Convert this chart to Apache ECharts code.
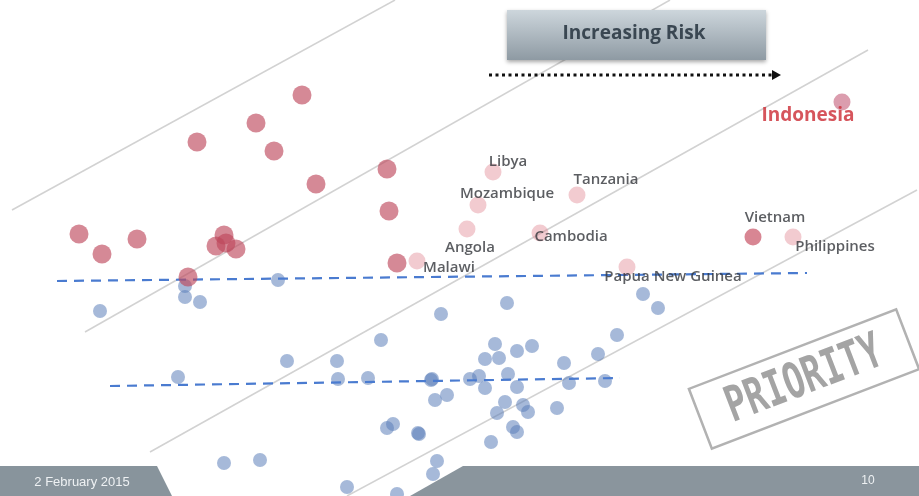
<!DOCTYPE html>
<html>
<head>
<meta charset="utf-8">
<script src="https://cdn.jsdelivr.net/npm/echarts@6/dist/echarts.min.js"></script>
<style>html,body{margin:0;padding:0;background:#fff}#c{width:919px;height:496px}</style>
</head>
<body>
<div id="c"></div>
<script>
// ---- data (slide coordinates) ----
var redPoints = [[302,95],[256,123],[197,142],[274,151],[316,184],[387,169],[389,211],
  [79,234],[102,254],[137,239],[224,235],[216,246],[226,243],[236,249],[188,277],[397,263]];
var bluePoints = [[100,311],[185,286],[185,297],[200,302],[278,280],[441,314],[381,340],
  [287,361],[337,361],[178,377],[338,379],[368,378],[432,379],[435,400],[447,395],
  [387,428],[393,424],[419,434],[224,463],[260,460],[347,487],[437,461],[433,474],[397,494],
  [507,303],[643,294],[658,308],[617,335],[598,354],[564,363],[532,346],[517,351],
  [495,344],[499,358],[485,359],[431,380],[470,379],[479,376],[485,388],[508,374],
  [517,387],[569,383],[605,381],[505,402],[497,413],[523,405],[528,412],[557,408],
  [418,433],[513,427],[517,432],[491,442]];
var countries = ['Libya','Mozambique','Tanzania','Angola','Cambodia','Malawi','Papua New Guinea','Vietnam','Philippines','Indonesia'];
var countryX = [493,478,577,467,540,417,627,753,793,842];
var countryY = [172,205,195,229,233,261,267,237,237,102];
var diagonals = [[[12,210],[395,0]],[[85,332],[670,0]],[[150,452],[868,50]],[[347,496],[917,190]]];
var thresholds = [[[57,281],[807,273]],[[110,386],[620,378]]];
var footerDate = '2 February 2015';
var pageNo = '10';
var headerText = 'Increasing Risk';
var stampText = 'PRIORITY';

// ---- styling / rendering ----
var labelOffsets = {
  'Libya':[15,-10],'Mozambique':[29,-11],'Tanzania':[29,-15],'Angola':[3,19],
  'Cambodia':[31,4],'Malawi':[32,7],'Papua New Guinea':[46,10],'Vietnam':[22,-19],
  'Philippines':[42,10],'Indonesia':[-34,14]
};
var strongCountries = {'Vietnam':'rgba(195,70,90,0.82)','Indonesia':'rgba(190,80,110,0.7)'};

var series = [];
diagonals.forEach(function(d){
  series.push({type:'line',data:d,symbol:'none',silent:true,z:1,
    lineStyle:{color:'#d2d2d2',width:1.5}});
});
thresholds.forEach(function(d){
  series.push({type:'line',data:d,symbol:'none',silent:true,z:3,
    lineStyle:{color:'#4a7bd0',width:2.2,type:[10,7]}});
});
series.push({type:'scatter',data:bluePoints,symbolSize:14,z:2,
  itemStyle:{color:'rgba(90,125,185,0.68)'}});
series.push({type:'scatter',data:redPoints,symbolSize:19,z:4,
  itemStyle:{color:'rgba(190,70,90,0.8)'}});
series.push({type:'scatter',z:5,symbolSize:17,
  data:countries.map(function(n,i){
    var isIndo = n==='Indonesia';
    return {name:n,value:[countryX[i],countryY[i]],
      itemStyle:{color:strongCountries[n]||'rgba(222,125,138,0.5)'},
      label:{show:true,position:'inside',offset:labelOffsets[n],formatter:n,
        color:isIndo?'#cc2a33':'#33363b',fontSize:isIndo?19:15,
        fontWeight:isIndo?'bold':600,fontFamily:'Open Sans'}};
  })
});

var chart = echarts.init(document.getElementById('c'));
chart.setOption({
  animation:false,
  backgroundColor:'#ffffff',
  grid:{left:0,right:0,top:0,bottom:0},
  xAxis:{type:'value',min:0,max:919,show:false},
  yAxis:{type:'value',min:0,max:496,inverse:true,show:false},
  series:series,
  graphic:[
    {type:'rect',z:10,shape:{x:507,y:10,width:259,height:50},
      style:{fill:new echarts.graphic.LinearGradient(0,0,0,1,[{offset:0,color:'#cdd6dc'},{offset:1,color:'#8e9aa3'}]),
        shadowColor:'rgba(0,0,0,0.35)',shadowBlur:4,shadowOffsetY:2}},
    {type:'text',z:11,x:634,y:34,style:{text:headerText,fill:'#3a4752',font:'bold 19px "Open Sans"',align:'center',verticalAlign:'middle'}},
    {type:'line',z:10,shape:{x1:489,y1:75,x2:772,y2:75},style:{stroke:'#111',lineWidth:3,lineDash:[3,3.5]}},
    {type:'polygon',z:10,shape:{points:[[772,70],[781,75],[772,80]]},style:{fill:'#111'}},
    {type:'polygon',z:20,shape:{points:[[0,466],[157,466],[172,496],[0,496]]},style:{fill:'#88949c'}},
    {type:'polygon',z:20,shape:{points:[[463,466],[919,466],[919,496],[410,496]]},style:{fill:'#8a959d'}},
    {type:'text',z:21,x:82,y:482,style:{text:footerDate,fill:'#eef1f3',font:'13px "Liberation Sans"',align:'center',verticalAlign:'middle'}},
    {type:'text',z:21,x:868,y:481,style:{text:pageNo,fill:'#eef1f3',font:'12px "Liberation Sans"',align:'center',verticalAlign:'middle'}},
    {type:'group',z:15,x:804,y:379,rotation:21*Math.PI/180,children:[
      {type:'rect',shape:{x:-111,y:-32,width:222,height:64},style:{fill:'rgba(255,255,255,0.85)',stroke:'#b2b2b2',lineWidth:2.5}},
      {type:'text',x:0,y:2,scaleY:1.45,style:{text:stampText,fill:'#a4a4a4',font:'bold 34px "DejaVu Sans Mono"',align:'center',verticalAlign:'middle'}}
    ]}
  ]
});
</script>
</body>
</html>
